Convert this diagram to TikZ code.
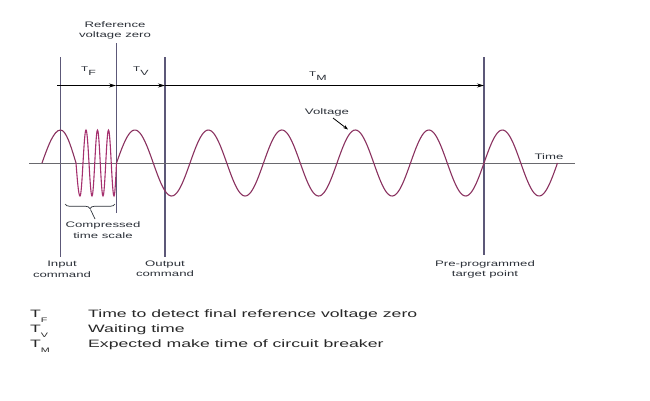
\documentclass[tikz,border=0pt]{standalone}
\usepackage{fontspec}
\setmainfont[FakeStretch=1.65]{Liberation Sans}
\usetikzlibrary{arrows.meta,decorations.pathreplacing}
\definecolor{wavec}{RGB}{138,50,96}
\definecolor{wavecc}{RGB}{165,48,110}
\definecolor{vlinec}{RGB}{92,88,120}
\definecolor{axisc}{RGB}{105,105,110}
\definecolor{lblc}{RGB}{45,50,58}
\definecolor{legc}{RGB}{40,40,40}
\newcommand\TsubTop[1]{{\fontsize{7}{7}\selectfont T}\raisebox{-4.5pt}{\fontsize{7.5}{7.5}\selectfont #1}}
\newcommand\TsubLeg[1]{{\fontsize{10.7}{12}\selectfont T}\raisebox{-5.5pt}{\fontsize{6.5}{7}\selectfont #1}}
\begin{document}
\begin{tikzpicture}[x=1pt,y=-1pt,
  lbl/.style={font=\fontsize{8}{10.5}\selectfont, text=lblc, align=center, inner sep=0pt, anchor=north},
  tlbl/.style={text=lblc, inner sep=0pt, anchor=base west},
  leg/.style={font=\fontsize{10.7}{12}\selectfont, text=legc, inner sep=0pt, anchor=base west},
  thinv/.style={draw=vlinec, line width=0.8pt},
  thickv/.style={draw=vlinec, line width=1.7pt},
  dimarrow/.style={-{Stealth[length=7pt,width=4pt]}, line width=0.8pt, draw=black},
  wavepath/.style={draw=wavec, line width=1.1pt},
  wavecomp/.style={draw=wavecc, line width=1.1pt}
]
\useasboundingbox[fill=white] (0,0) rectangle (650,400);

% vertical lines
\coordinate (inT) at (60.5,57);  \coordinate (inB) at (60.5,257);
\coordinate (refT) at (116,43);  \coordinate (refB) at (116,213);
\coordinate (outT) at (165,57);  \coordinate (outB) at (165,257);
\coordinate (preT) at (484,57);  \coordinate (preB) at (484,255);
\draw[thinv] (inT) -- (inB);
\draw[thinv] (refT) -- (refB);
\draw[thickv] (outT) -- (outB);
\draw[thickv] (preT) -- (preB);

% time axis
\coordinate (ax0) at (29,163.5);
\coordinate (ax1) at (575,163.5);
\draw[axisc, line width=0.7pt] (ax0) -- (ax1);

% dimension arrows
\coordinate (a0) at (57,85.5);
\coordinate (a1) at (116,85.5);
\coordinate (a2) at (165,85.5);
\coordinate (a3) at (484,85.5);
\draw[dimarrow] (a0) -- (a1);
\draw[dimarrow] (a1) -- (a2);
\draw[dimarrow] (a2) -- (a3);

% voltage wave
\draw[wavepath] (42,163) sin (60.5,130) cos (76,163);
\draw[wavecomp] (76,163) sin (80,196) cos (83,163) sin (86,130) cos (89,163)
  sin (92,196) cos (94.75,163) sin (97.5,130) cos (100.25,163)
  sin (103,196) cos (105.75,163) sin (108.5,130) cos (111.25,163)
  sin (114,196) cos (116.5,163);
\draw[wavepath] plot[domain=116.5:557.5, samples=300, smooth] (\x, {163-33*sin((\x-116.5)/73.5*360)});

% brace
\coordinate (brL) at (65,204);
\coordinate (brR) at (115,204);
\coordinate (brTip) at (90.5,209.5);
\coordinate (brEnd) at (95,219);
\draw[lblc, line width=0.7pt, decorate, decoration={brace, mirror, amplitude=4.5pt}] (brL) -- (brR);
\draw[lblc, line width=0.7pt] (brTip) -- (brEnd);

% labels
\node[lbl] (refl) at (115,21.5) {Reference\\voltage zero};
\node[lbl] (inl) at (62,261) {Input\\command};
\node[lbl] (outl) at (165,260.5) {Output\\command};
\node[lbl] (prel) at (485,260) {Pre-programmed\\target point};
\node[lbl] (cmpl) at (103,221.5) {Compressed\\time scale};
\node[lbl] (volt) at (327,108.5) {Voltage};
\node[lbl] (timel) at (549,153) {Time};

\coordinate (vs) at (333,118);
\coordinate (vtip) at (348,129.5);
\draw[-{Stealth[length=5pt,width=3.5pt]}, line width=0.8pt] (vs) -- (vtip);

% T labels on top
\node[tlbl] (tf) at (81,71) {\TsubTop{F}};
\node[tlbl] (tv) at (133,71) {\TsubTop{V}};
\node[tlbl] (tm) at (309,76) {\TsubTop{M}};

% legend
\node[leg] (lgf) at (30,317) {\TsubLeg{F}};
\node[leg] (lgv) at (30,332) {\TsubLeg{V}};
\node[leg] (lgm) at (30,347) {\TsubLeg{M}};
\node[leg] (dsf) at (88,317) {Time to detect final reference voltage zero};
\node[leg] (dsv) at (88,332) {Waiting time};
\node[leg] (dsm) at (88,347) {Expected make time of circuit breaker};
\end{tikzpicture}
\end{document}
